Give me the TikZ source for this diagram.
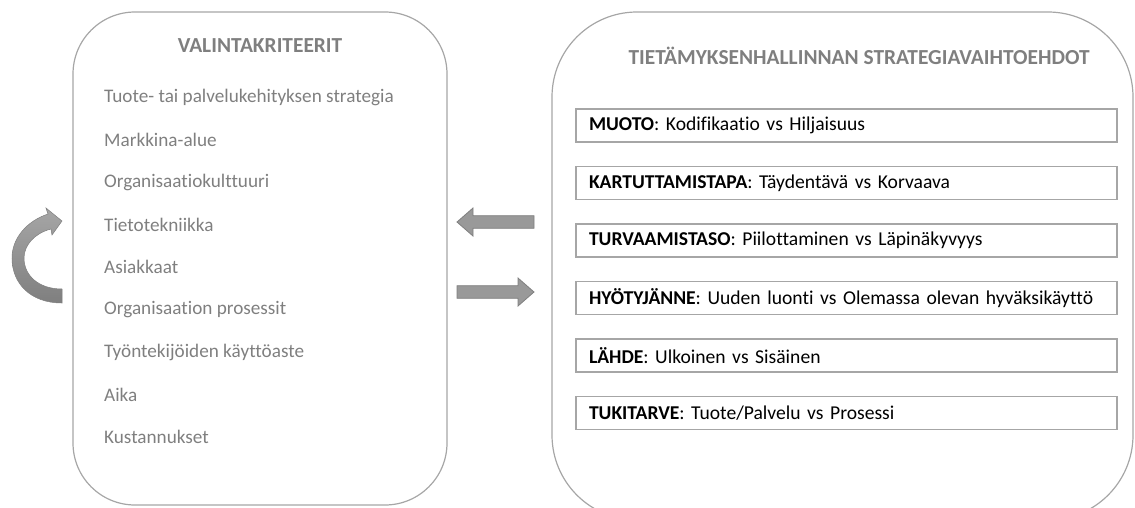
\documentclass[tikz,border=0pt]{standalone}
\usepackage{fontspec}
\setmainfont{Carlito}[Ligatures=NoCommon]
\usetikzlibrary{positioning}

\definecolor{textgray}{HTML}{7F7F7F}
\definecolor{linegray}{HTML}{A6A6A6}
\definecolor{arrowgray}{HTML}{999999}

\begin{document}
\begin{tikzpicture}[x=1pt,y=-1pt,
	crit/.style={anchor=west, text=textgray, inner sep=0pt, font=\fontsize{19.2}{22}\selectfont},
	ttl/.style={text=textgray, inner sep=0pt, font=\fontsize{21.4}{24}\selectfont\bfseries},
	optbox/.style={draw=linegray, line width=1.3pt, minimum height=33pt, text width=515pt,
		inner xsep=13pt, align=left, font=\fontsize{19.6}{22}\selectfont},
	bigbox/.style={draw=linegray, line width=1.2pt},
	blockarrow/.style={draw=textgray, fill=arrowgray, line width=0.8pt, line join=miter}]
	\useasboundingbox (0,0) rectangle (1135,507);
	% rounded frames
	\draw[bigbox, rounded corners=62pt] (73,12) rectangle (447,505);
	\draw[bigbox, rounded corners=85pt] (552,12) rectangle (1133,520);
	% selection criteria
	\node[ttl] (crithead) at (260,46) {VALINTAKRITEERIT};
	\foreach \txt [count=\i from 0] in {Tuote- tai palvelukehityksen strategia, Markkina-alue,
		Organisaatiokulttuuri, Tietotekniikka, Asiakkaat, Organisaation prosessit,
		Työntekijöiden käyttöaste, Aika, Kustannukset}
		\node[crit] (crit\i) at (104,97+42.5*\i) {\txt};
	% strategy alternatives
	\node[ttl] (opthead) at (859,56) {TIETÄMYKSENHALLINNAN STRATEGIAVAIHTOEHDOT};
	\node[optbox] (opt0) at (846.5,125.5) {\textbf{MUOTO}: Kodifikaatio vs Hiljaisuus};
	\node[optbox] (opt1) at (846.5,183) {\textbf{KARTUTTAMISTAPA}: Täydentävä vs Korvaava};
	\node[optbox] (opt2) at (846.5,240.5) {\textbf{TURVAAMISTASO}: Piilottaminen vs Läpinäkyvyys};
	\node[optbox] (opt3) at (846.5,298) {\textbf{HYÖTYJÄNNE}: Uuden luonti vs Olemassa olevan hyväksikäyttö};
	\node[optbox] (opt4) at (846.5,355.5) {\textbf{LÄHDE}: Ulkoinen vs Sisäinen};
	\node[optbox] (opt5) at (846.5,413) {\textbf{TUKITARVE}: Tuote/Palvelu vs Prosessi};
	% block arrows between the frames
	\draw[blockarrow] (534,215.7) -- (473,215.7) -- (473,208) -- (457,222) -- (473,236)
		-- (473,228.3) -- (534,228.3) -- cycle;
	\draw[blockarrow] (457,285.7) -- (518,285.7) -- (518,278) -- (534,292) -- (518,306)
		-- (518,298.3) -- (457,298.3) -- cycle;
	% curved arrow
	\shade[top color=linegray, bottom color=textgray, draw=textgray, line width=0.5pt]
		(62,303) .. controls (30,303) and (12,283) .. (12,258)
		.. controls (12,238) and (27,221) .. (48,214) -- (46,208) -- (62,221) -- (52,235)
		-- (51,229) .. controls (35,233) and (24,245) .. (24,258)
		.. controls (24,275) and (38,289) .. (62,289) -- cycle;
\end{tikzpicture}
\end{document}
